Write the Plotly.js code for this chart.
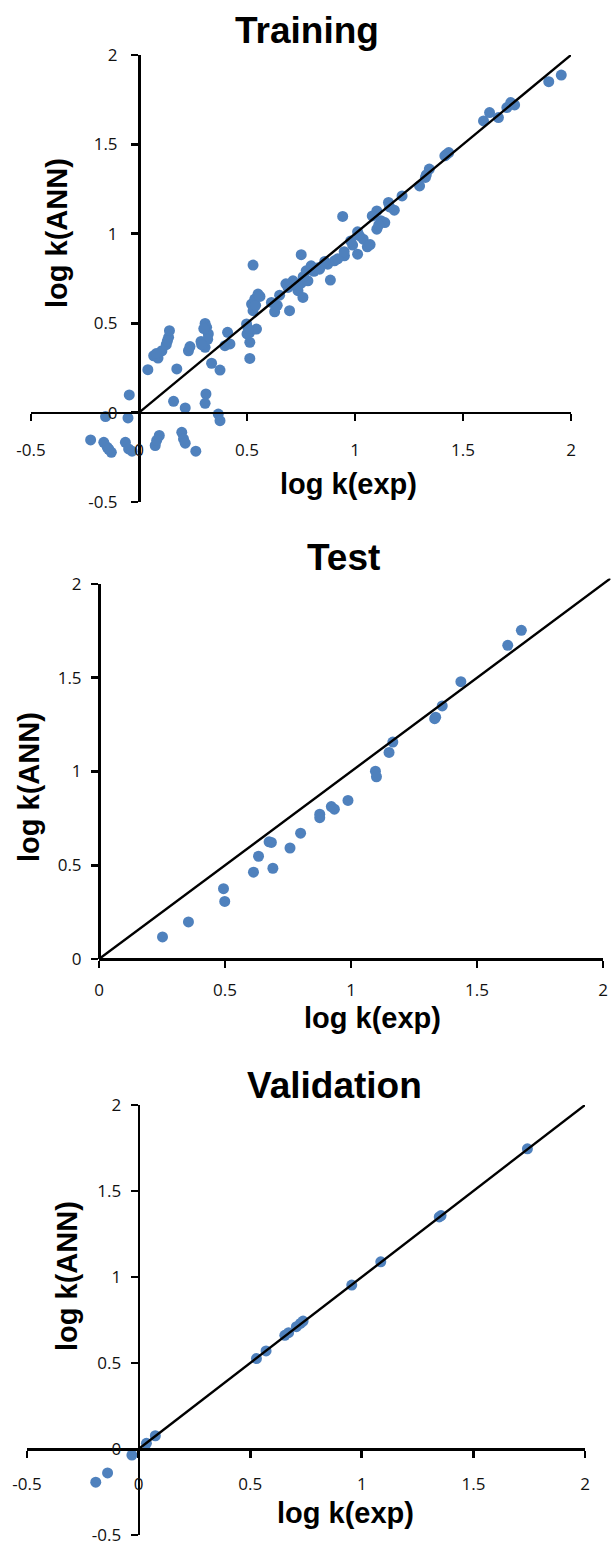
<!DOCTYPE html>
<html>
<head>
<meta charset="utf-8">
<script src="https://cdn.plot.ly/plotly-3.0.1.min.js"></script>
<style>html,body{margin:0;padding:0;background:#fff;}#chart{width:611px;height:1547px;}</style>
</head>
<body>
<div id="chart"></div>
<script>
// ---------------- data ----------------
const trainX = [-0.224,-0.163,-0.147,-0.128,-0.063,-0.048,-0.032,-0.155,-0.051,-0.045,
  0.075,0.094,0.082,0.198,0.206,0.214,0.263,0.160,0.214,0.310,0.306,0.367,0.375,
  0.041,0.068,0.088,0.106,0.126,0.137,0.141,0.175,0.229,0.236,0.287,0.306,0.313,0.321,0.306,0.318,0.336,0.375,0.410,0.398,0.421,0.080,
  0.498,0.513,0.544,0.513,0.513,0.521,0.536,0.551,0.528,0.528,0.540,
  0.613,0.628,0.651,0.697,0.697,0.713,0.736,0.751,0.759,0.782,0.774,0.797,0.836,0.874,0.905,0.951,0.751,0.886,
  0.943,1.012,0.989,1.012,1.057,1.038,1.101,1.120,1.101,1.138,1.155,1.182,1.218,1.299,1.326,1.344,1.416,1.434,
  1.595,1.623,1.664,1.703,1.721,1.739,1.897,1.955,
  0.690,0.720,0.810,0.860,0.920,0.980,1.070,1.110,1.330,1.080,0.640,0.500,0.505,0.560,0.830,0.950,1.020,0.300,0.290,0.131,0.680,0.760,1.160,1.425,-0.140];
const trainY = [-0.153,-0.166,-0.194,-0.222,-0.166,-0.203,-0.216,-0.022,-0.030,0.099,
  -0.184,-0.128,-0.155,-0.110,-0.147,-0.171,-0.216,0.063,0.026,0.104,0.052,-0.008,-0.045,
  0.240,0.318,0.305,0.346,0.380,0.421,0.458,0.244,0.346,0.369,0.398,0.499,0.477,0.440,0.365,0.410,0.276,0.238,0.449,0.374,0.384,0.330,
  0.496,0.449,0.467,0.393,0.303,0.607,0.635,0.663,0.570,0.825,0.600,
  0.616,0.564,0.657,0.570,0.713,0.737,0.682,0.724,0.644,0.737,0.793,0.821,0.802,0.830,0.849,0.877,0.883,0.741,
  1.097,1.011,0.937,0.886,0.927,0.970,1.128,1.073,1.026,1.063,1.175,1.132,1.212,1.268,1.315,1.362,1.436,1.454,
  1.631,1.678,1.650,1.706,1.734,1.721,1.851,1.888,
  0.700,0.720,0.790,0.845,0.860,0.960,0.940,1.050,1.330,1.100,0.600,0.440,0.470,0.650,0.810,0.900,0.990,0.470,0.380,0.400,0.720,0.760,1.150,1.445,-0.205];

const testX = [0.252,0.355,0.494,0.499,0.613,0.633,0.675,0.684,0.690,0.758,0.800,0.876,0.876,0.922,0.934,0.988,1.097,1.101,1.151,1.166,1.336,1.332,1.362,1.436,1.622,1.676];
const testY = [0.118,0.198,0.375,0.307,0.463,0.548,0.625,0.622,0.484,0.592,0.671,0.772,0.754,0.813,0.799,0.846,1.002,0.972,1.102,1.157,1.290,1.282,1.350,1.479,1.673,1.753];

const valX = [-0.192,-0.139,-0.030,0.035,0.075,0.528,0.571,0.655,0.672,0.707,0.725,0.737,0.955,1.085,1.347,1.355,1.742];
const valY = [-0.193,-0.139,-0.035,0.033,0.077,0.526,0.570,0.661,0.676,0.711,0.730,0.744,0.953,1.088,1.349,1.357,1.745];

const diagTrain = [0, 2];
const diagTest = [0, 2.03];
const diagVal = [0, 2];

const tickValsWide = [-0.5, 0, 0.5, 1, 1.5, 2];
const tickTextWide = ['-0.5', '0', '0.5', '1', '1.5', '2'];
const tickValsPos = [0, 0.5, 1, 1.5, 2];
const tickTextPos = ['0', '0.5', '1', '1.5', '2'];

const panelTitles = ['Training', 'Test', 'Validation'];
const xTitle = 'log k(exp)';
const yTitle = 'log k(ANN)';

// ---------------- layout geometry ----------------
const W = 611, H = 1547;
function xdom(p0, p1) { return [p0 / W, p1 / W]; }
function ydom(pb, pt) { return [1 - pb / H, 1 - pt / H]; }
function zeroFrac(dom, r) { return dom[0] + (0 - r[0]) / (r[1] - r[0]) * (dom[1] - dom[0]); }

const blue = '#4F81BD';
const tickFont = {family: 'Open Sans, Noto Sans, sans-serif', size: 17, color: '#111'};
const boldFont = {family: 'Liberation Sans, Arial, sans-serif', size: 29, color: '#000', weight: 'bold'};
const titleFont = {family: 'Liberation Sans, Arial, sans-serif', size: 37, color: '#000', weight: 'bold'};

const rW = [-0.5, 2], rP = [0, 2];
const g = {
  train: {xd: xdom(31, 571), yd: ydom(502, 55), xr: rW, yr: rW},
  test:  {xd: xdom(99, 603), yd: ydom(959, 584), xr: rP, yr: rP},
  val:   {xd: xdom(27, 585), yd: ydom(1535, 1105), xr: rW, yr: rW}
};
// hidden axis pair for the test diagonal that runs slightly past 2
const testUnitX = (603 - 99) / 2, testUnitY = (959 - 584) / 2;
g.testDiag = {xd: xdom(99, 99 + testUnitX * diagTest[1]), yd: ydom(959, 959 - testUnitY * diagTest[1]), xr: [0, diagTest[1]], yr: [0, diagTest[1]]};

function xAxis(p, tv, tt, standoff) {
  return {domain: p.xd, range: p.xr, anchor: 'free', position: zeroFrac(p.yd, p.yr),
    showline: true, linecolor: '#000', linewidth: 2.8, showgrid: false, zeroline: false,
    ticks: 'outside', ticklen: 7, tickwidth: 2.8, tickcolor: '#000', ticklabeloverflow: 'allow',
    tickvals: tv, ticktext: tt, tickfont: tickFont, ticklabelstandoff: standoff, fixedrange: true};
}
function yAxis(p, tv, tt, standoff) {
  return {domain: p.yd, range: p.yr, anchor: 'free', position: zeroFrac(p.xd, p.xr),
    showline: true, linecolor: '#000', linewidth: 2.8, showgrid: false, zeroline: false,
    ticks: 'outside', ticklen: 7, tickwidth: 2.8, tickcolor: '#000', ticklabeloverflow: 'allow',
    tickvals: tv, ticktext: tt, tickfont: tickFont, ticklabelstandoff: standoff, fixedrange: true};
}
function hidden(d, r) {
  return {domain: d, range: r, anchor: 'free', position: 0, visible: false, showgrid: false, zeroline: false, fixedrange: true};
}

const marker = {color: blue, size: 11, line: {width: 0}};
const diagLine = {color: '#000', width: 2.4};

const traces = [
  {x: trainX, y: trainY, xaxis: 'x', yaxis: 'y', type: 'scatter', mode: 'markers', marker: marker, cliponaxis: false},
  {x: diagTrain, y: diagTrain, xaxis: 'x', yaxis: 'y', type: 'scatter', mode: 'lines', line: diagLine},
  {x: testX, y: testY, xaxis: 'x2', yaxis: 'y2', type: 'scatter', mode: 'markers', marker: marker, cliponaxis: false},
  {x: diagTest, y: diagTest, xaxis: 'x4', yaxis: 'y4', type: 'scatter', mode: 'lines', line: diagLine},
  {x: valX, y: valY, xaxis: 'x3', yaxis: 'y3', type: 'scatter', mode: 'markers', marker: marker, cliponaxis: false},
  {x: diagVal, y: diagVal, xaxis: 'x3', yaxis: 'y3', type: 'scatter', mode: 'lines', line: diagLine}
];

function ann(text, xp, yp, font, rot) {
  return {text: text, xref: 'paper', yref: 'paper', x: xp / W, y: 1 - yp / H,
    xanchor: 'center', yanchor: 'middle', showarrow: false, font: font, textangle: rot || 0};
}

const layout = {
  width: W, height: H, margin: {l: 0, r: 0, t: 0, b: 0},
  paper_bgcolor: '#fff', plot_bgcolor: 'rgba(0,0,0,0)', showlegend: false,
  xaxis: xAxis(g.train, tickValsWide, tickTextWide, 14),
  yaxis: yAxis(g.train, tickValsWide, tickTextWide, 10),
  xaxis2: xAxis(g.test, tickValsPos, tickTextPos, 8),
  yaxis2: yAxis(g.test, tickValsPos, tickTextPos, 6),
  xaxis3: xAxis(g.val, tickValsWide, tickTextWide, 12),
  yaxis3: yAxis(g.val, tickValsWide, tickTextWide, 6),
  xaxis4: hidden(g.testDiag.xd, g.testDiag.xr),
  yaxis4: hidden(g.testDiag.yd, g.testDiag.yr),
  annotations: [
    ann(panelTitles[0], 307, 30, titleFont),
    ann(panelTitles[1], 343, 557, titleFont),
    ann(panelTitles[2], 334, 1085, titleFont),
    ann(xTitle, 348, 484, boldFont),
    ann(xTitle, 372, 1018, boldFont),
    ann(xTitle, 345, 1513, boldFont),
    ann(yTitle, 57, 233, boldFont, -90),
    ann(yTitle, 29, 787, boldFont, -90),
    ann(yTitle, 67, 1276, boldFont, -90)
  ]
};

Plotly.newPlot('chart', traces, layout, {staticPlot: true, displayModeBar: false});
</script>
</body>
</html>
